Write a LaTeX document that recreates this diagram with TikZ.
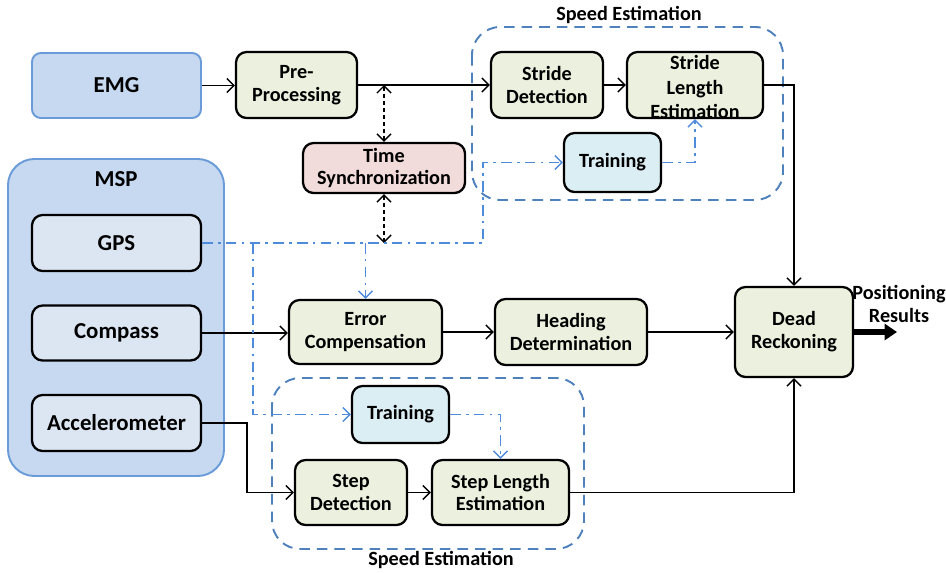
\documentclass[tikz,border=0pt]{standalone}
\usepackage{fontspec}
\setmainfont{Carlito}
\usetikzlibrary{arrows.meta}
\definecolor{emgfill}{HTML}{C6D9F1}
\definecolor{emgdraw}{HTML}{6A9BD8}
\definecolor{sensfill}{HTML}{DCE6F2}
\definecolor{grnfill}{HTML}{EBF1DE}
\definecolor{pinkfill}{HTML}{F2DCDB}
\definecolor{trfill}{HTML}{DBEEF4}
\definecolor{dashblue}{HTML}{4F81BD}
\definecolor{ddblue}{HTML}{4F8BDB}
\tikzset{
  sz/.style 2 args={minimum width=#1*0.02cm, minimum height=#2*0.02cm},
  base/.style={rectangle, rounded corners=6pt, line width=1.3pt, draw=black, inner sep=0pt,
    align=center, font=\fontsize{11.5}{13}\selectfont\bfseries},
  gbox/.style={base, fill=grnfill},
  sbox/.style={base, fill=sensfill, font=\fontsize{13}{15}\selectfont\bfseries},
  tbox/.style={base, fill=trfill},
  pbox/.style={base, fill=pinkfill},
  bluebox/.style={rectangle, rounded corners=5pt, line width=1.1pt, draw=emgdraw, fill=emgfill,
    font=\fontsize{13}{15}\selectfont\bfseries},
  grp/.style={draw=dashblue, line width=1.1pt, dash pattern=on 6pt off 4pt, rounded corners=16pt},
  arr/.style={line width=0.8pt, -{Straight Barb[length=4pt,width=8pt]}},
  darr/.style={line width=0.8pt, dash pattern=on 2.5pt off 1.5pt, {Straight Barb[length=4pt,width=8pt]}-{Straight Barb[length=4pt,width=8pt]}},
  dd/.style={draw=ddblue, line width=0.8pt, dash pattern=on 6pt off 3pt on 1.5pt off 3pt},
  ddarr/.style={dd, -{Straight Barb[length=4pt,width=8pt]}},
  lbl/.style={font=\fontsize{11.5}{13}\selectfont\bfseries, align=center, inner sep=0pt}
}
\begin{document}
\begin{tikzpicture}[x=0.02cm,y=-0.02cm]
\useasboundingbox (0,0) rectangle (946,572);
% group boxes
\draw[grp] (472,27) rectangle (783,200);
\draw[grp] (272,378) rectangle (584,549);
\node[lbl] (se1) at (629,15) {Speed Estimation};
\node[lbl] (se2) at (441,560) {Speed Estimation};
% MSP
\node[bluebox, rounded corners=15pt, sz={216}{317}] (msp) at (116,317.5) {};
\node[lbl, font=\fontsize{13}{15}\selectfont\bfseries] (msplbl) at (116,179) {MSP};
% nodes
\node[bluebox, sz={169}{65}] (emg) at (116.5,85.5) {EMG};
\node[gbox, sz={121}{66}] (pre) at (296.5,85) {Pre-\\Processing};
\node[pbox, sz={162}{50}] (ts) at (384,168) {Time\\Synchronization};
\node[sbox, sz={169}{56}] (gps) at (116.5,243) {GPS};
\node[sbox, sz={169}{55}] (comp) at (116.5,333) {Compass};
\node[sbox, sz={169}{56}] (acc) at (116.5,423) {Accelerometer};
\node[gbox, sz={153}{64}] (ec) at (365.5,332) {Error\\Compensation};
\node[gbox, sz={152}{66}] (hd) at (571,332) {Heading\\Determination};
\node[gbox, sz={118}{90}] (dr) at (794,332) {Dead\\Reckoning};
\node[gbox, sz={112}{65}] (sd) at (351,492.5) {Step\\Detection};
\node[gbox, sz={137}{65}] (sle) at (500.5,492.5) {Step Length\\Estimation};
\node[tbox, sz={97}{57}] (tr2) at (400.5,414.5) {Training};
\node[gbox, sz={112}{66}] (strd) at (547,85) {Stride\\Detection};
\node[gbox, sz={136}{66}] (stle) at (695,85) {};
\node[lbl, font=\fontsize{11.5}{14}\selectfont\bfseries] (stletxt) at (695,87) {Stride\\Length\\Estimation};
\node[tbox, sz={97}{59}] (tr1) at (612.5,162.5) {Training};
\node[lbl] (posres) at (899,304) {Positioning\\Results};
% coordinates
\coordinate (jA) at (483,162.5);
\coordinate (jB) at (253,243);
\coordinate (jC) at (247,423);
\coordinate (pr) at (897,332);
% solid connectors
\draw[arr] (emg.east) -- (emg.east -| pre.west);
\draw[arr] (pre.east) -- (pre.east -| strd.west);
\draw[arr] (strd.east) -- (strd.east -| stle.west);
\draw[arr] (stle.east) -| (dr.north);
\draw[arr] (comp.east) -- (comp.east -| ec.west);
\draw[arr] (ec.east) -- (hd.west);
\draw[arr] (hd.east) -- (dr.west);
\draw[arr] (acc.east) -- (jC) |- (sd.west);
\draw[arr] (sd.east) -- (sle.west);
\draw[arr] (sle.east) -| (dr.south);
\draw[line width=3.2pt, -{Triangle[length=7pt,width=9pt]}] (dr.east) -- (pr);
% dashed sync arrows
\draw[darr] (ts.north |- pre.east) -- (ts.north);
\draw[darr] (ts.south) -- (ts.south |- gps.east);
% dash-dot blue connectors
\draw[ddarr] (gps.east) -| (jA) -- (tr1.west);
\draw[ddarr] (jB) |- (tr2.west);
\draw[ddarr] (ec.north |- gps.east) -- (ec.north);
\draw[ddarr] (tr1.east) -| (stle.south);
\draw[ddarr] (tr2.east) -| (sle.north);
\end{tikzpicture}
\end{document}
